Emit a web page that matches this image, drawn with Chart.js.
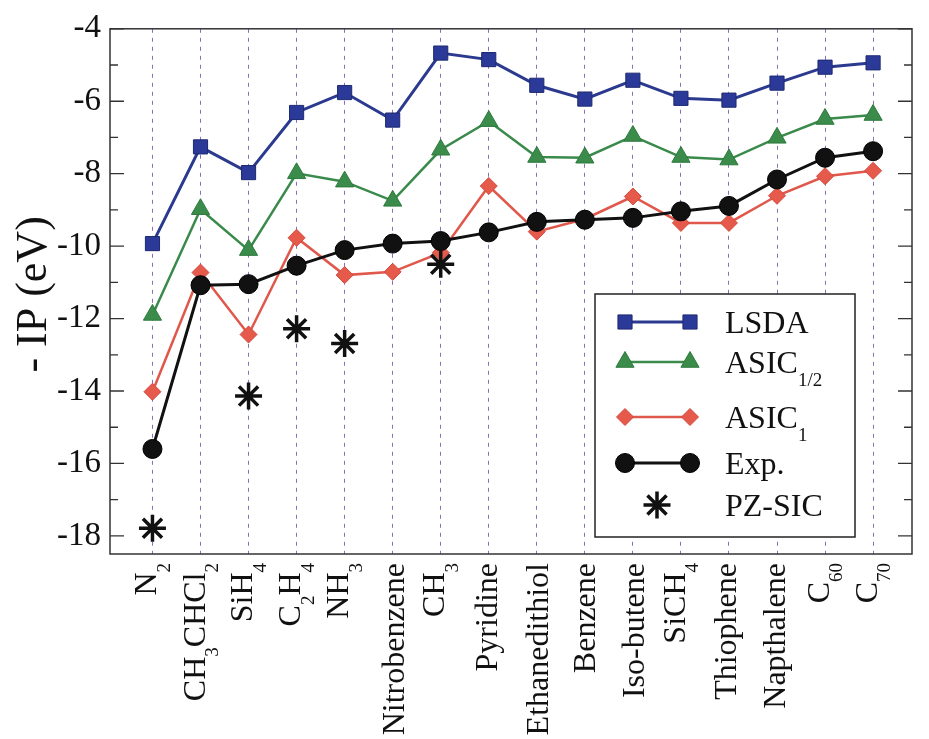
<!DOCTYPE html>
<html>
<head>
<meta charset="utf-8">
<script src="https://cdn.jsdelivr.net/npm/chart.js@4.4.0/dist/chart.umd.min.js"></script>
<style>
  html, body { margin: 0; padding: 0; background: #fff; }
</style>
</head>
<body>
<canvas id="ipChart" width="929" height="739"></canvas>
<script>
// Molecules ("_" marks a subscript)
const molecules = ["N_2", "CH_3CHCl_2", "SiH_4", "C_2H_4", "NH_3", "Nitrobenzene", "CH_3", "Pyridine",
  "Ethanedithiol", "Benzene", "Iso-butene", "SiCH_4", "Thiophene", "Napthalene", "C_60", "C_70"];

// - IP (eV) per method
const lsda = [-9.93, -7.26, -7.97, -6.31, -5.76, -6.52, -4.67, -4.85, -5.56, -5.94, -5.42, -5.92, -5.97, -5.50, -5.06, -4.94];
const asicHalf = [-11.9, -8.98, -10.11, -7.99, -8.22, -8.75, -7.34, -6.55, -7.54, -7.56, -6.96, -7.54, -7.61, -7.01, -6.49, -6.38];
const asicOne = [-14.02, -10.73, -12.44, -9.77, -10.8, -10.71, -10.18, -8.34, -9.6, -9.25, -8.63, -9.36, -9.36, -8.61, -8.07, -7.92];
const expIP = [-15.6, -11.08, -11.05, -10.54, -10.11, -9.93, -9.86, -9.62, -9.33, -9.27, -9.22, -9.04, -8.89, -8.16, -7.56, -7.38];
const pzSic = [-17.79, null, -14.14, -12.28, -12.69, null, -10.5, null, null, null, null, null, null, null, null, null];

const yTicks = [-18, -16, -14, -12, -10, -8, -6, -4];
const yMinorTicks = [-17, -15, -13, -11, -9, -7, -5];

const FONT = "'Liberation Serif', 'Times New Roman', serif";

function toPoints(arr) {
  return arr.map((v, i) => ({ x: i, y: v })).filter(p => p.y !== null);
}

// "CH_3CHCl_2" -> [{t:"CH"},{t:"3",sub:true},...]
function splitSub(label) {
  const parts = label.split(/_([\d\/]+)/);
  return parts.map((t, i) => ({ t: t, sub: i % 2 === 1 })).filter(p => p.t !== "");
}

// draws text with subscripts, starting at x along the baseline y
function drawRich(ctx, parts, x, y, size, measureOnly) {
  const subSize = Math.round(size * 0.6);
  const subShift = size * 0.42;
  let w = 0, top = 0, bottom = 0;
  parts.forEach(p => {
    const s = p.sub ? subSize : size;
    ctx.font = s + "px " + FONT;
    const m = ctx.measureText(p.t);
    const dy = p.sub ? subShift : 0;
    if (!measureOnly) ctx.fillText(p.t, x + w, y + dy);
    top = Math.min(top, dy - m.actualBoundingBoxAscent);
    bottom = Math.max(bottom, dy + m.actualBoundingBoxDescent);
    w += m.width;
  });
  return { width: w, top: top, bottom: bottom };
}

const datasets = [
  {
    label: "LSDA", data: toPoints(lsda), showLine: true,
    borderColor: "#2b3a8f", backgroundColor: "#2b3a99", borderWidth: 3,
    pointStyle: "rect", pointRadius: 10, pointBorderColor: "#1e2a70", pointBorderWidth: 1, order: 4
  },
  {
    label: "ASIC_1/2", data: toPoints(asicHalf), showLine: true,
    borderColor: "#3a8a4c", backgroundColor: "#3b8b4b", borderWidth: 2.5,
    pointStyle: "triangle", pointRadius: 10.5, pointBorderColor: "#2d7a3c", pointBorderWidth: 1, order: 3
  },
  {
    label: "ASIC_1", data: toPoints(asicOne), showLine: true,
    borderColor: "#e0584b", backgroundColor: "#e55a4a", borderWidth: 2.5,
    pointStyle: "rectRot", pointRadius: 8.5, pointBorderColor: "#d24a3e", pointBorderWidth: 1, order: 2
  },
  {
    label: "Exp.", data: toPoints(expIP), showLine: true,
    borderColor: "#111111", backgroundColor: "#111111", borderWidth: 3,
    pointStyle: "circle", pointRadius: 9.5, pointBorderColor: "#000", pointBorderWidth: 1, order: 1
  },
  {
    label: "PZ-SIC", data: toPoints(pzSic), showLine: false,
    borderColor: "#111111", backgroundColor: "#111111",
    pointStyle: "star", pointRadius: 13.5, pointBorderColor: "#111", pointBorderWidth: 3.5, order: 0
  }
];

// frame, inward ticks, x labels, y title and legend
const decorPlugin = {
  id: "decor",
  beforeDatasetsDraw(chart) {
    const ctx = chart.ctx;
    const a = chart.chartArea;
    const y = chart.scales.y;
    ctx.save();
    ctx.strokeStyle = "#333";
    ctx.lineWidth = 1.5;
    ctx.strokeRect(a.left, a.top, a.right - a.left, a.bottom - a.top);
    ctx.lineWidth = 1.3;
    ctx.beginPath();
    yTicks.forEach(v => {
      const py = y.getPixelForValue(v);
      ctx.moveTo(a.left, py); ctx.lineTo(a.left + 14, py);
      ctx.moveTo(a.right, py); ctx.lineTo(a.right - 14, py);
    });
    yMinorTicks.forEach(v => {
      const py = y.getPixelForValue(v);
      ctx.moveTo(a.left, py); ctx.lineTo(a.left + 8, py);
      ctx.moveTo(a.right, py); ctx.lineTo(a.right - 8, py);
    });
    ctx.stroke();
    ctx.restore();
  },
  afterDatasetsDraw(chart) {
    const ctx = chart.ctx;
    const a = chart.chartArea;
    const x = chart.scales.x;
    ctx.save();
    ctx.fillStyle = "#111";
    ctx.textBaseline = "alphabetic";
    ctx.textAlign = "left";

    // x labels, rotated
    const size = 32;
    molecules.forEach((m, i) => {
      const parts = splitSub(m);
      const px = x.getPixelForValue(i);
      const box = drawRich(ctx, parts, 0, 0, size, true);
      const off = -(box.top + box.bottom) / 2;
      ctx.save();
      ctx.translate(px + off, a.bottom + 9);
      ctx.rotate(-Math.PI / 2);
      drawRich(ctx, parts, -box.width, 0, size, false);
      ctx.restore();
    });

    // y title
    ctx.save();
    ctx.font = "44px " + FONT;
    ctx.translate(46, (a.top + a.bottom) / 2 + 3);
    ctx.rotate(-Math.PI / 2);
    ctx.textAlign = "center";
    ctx.fillText("- IP (eV)", 0, 0);
    ctx.restore();

    // legend box
    const lx = 595, ly = 294, lw = 260, lh = 243;
    ctx.fillStyle = "#fff";
    ctx.fillRect(lx, ly, lw, lh);
    ctx.strokeStyle = "#222";
    ctx.lineWidth = 1.5;
    ctx.strokeRect(lx, ly, lw, lh);
    const rows = [322, 362, 417, 463, 505];
    datasets.forEach((ds, i) => {
      const ry = rows[i];
      ctx.fillStyle = ds.backgroundColor;
      const opts = { pointStyle: ds.pointStyle, radius: ds.pointRadius, rotation: 0, borderWidth: ds.pointBorderWidth };
      if (ds.showLine) {
        ctx.strokeStyle = ds.borderColor;
        ctx.lineWidth = ds.borderWidth;
        ctx.beginPath(); ctx.moveTo(625, ry); ctx.lineTo(690, ry); ctx.stroke();
        ctx.strokeStyle = ds.pointBorderColor;
        ctx.lineWidth = ds.pointBorderWidth;
        Chart.helpers.drawPoint(ctx, opts, 625, ry);
        Chart.helpers.drawPoint(ctx, opts, 690, ry);
      } else {
        ctx.strokeStyle = ds.pointBorderColor;
        ctx.lineWidth = ds.pointBorderWidth;
        Chart.helpers.drawPoint(ctx, opts, 657, ry);
      }
      ctx.fillStyle = "#111";
      drawRich(ctx, splitSub(ds.label), 725, ry + 11, 32, false);
    });
    ctx.restore();
  }
};

new Chart(document.getElementById("ipChart").getContext("2d"), {
  type: "scatter",
  data: { datasets: datasets.map(d => Object.assign({}, d, { pointBackgroundColor: d.backgroundColor })) },
  options: {
    responsive: false,
    animation: false,
    devicePixelRatio: 1,
    layout: { padding: { top: 24, right: 1, bottom: 185, left: 0 } },
    plugins: { legend: { display: false }, tooltip: { enabled: false } },
    scales: {
      x: {
        type: "linear",
        min: -0.884,
        max: 15.81,
        afterBuildTicks: s => { s.ticks = molecules.map((_, i) => ({ value: i })); },
        afterFit: s => { s.height = 0; },
        ticks: { display: false },
        grid: { display: true, color: "#8a6fc0", lineWidth: 1, drawTicks: false },
        border: { display: false, dash: [4, 5] }
      },
      y: {
        min: -18.5,
        max: -4,
        afterBuildTicks: s => { s.ticks = yTicks.map(v => ({ value: v })); },
        afterFit: s => { s.width = 110; },
        ticks: {
          color: "#111",
          padding: 9,
          font: { family: FONT, size: 33 },
          callback: v => String(v)
        },
        grid: { display: false, drawTicks: false },
        border: { display: false }
      }
    }
  },
  plugins: [decorPlugin]
});
</script>
</body>
</html>
